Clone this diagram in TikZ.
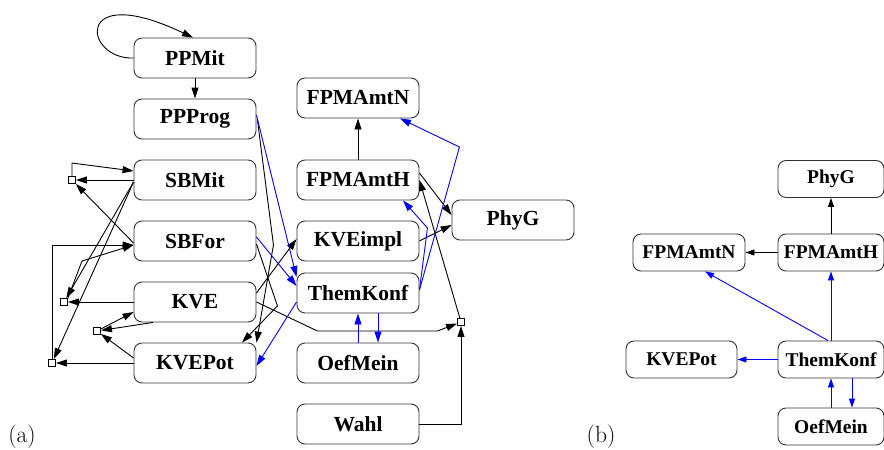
\documentclass[tikz,border=0pt]{standalone}
\usepackage{fontspec}
\newfontfamily\boxfont{Liberation Serif}
\usepackage{tikz}
\usetikzlibrary{arrows.meta,calc}
\tikzset{every picture/.style={line width=0.9pt}}

\begin{document}
\begin{tikzpicture}[x=1pt,y=1pt,yscale=-1,xscale=1,
  box/.style={draw=black!80,rounded corners=8pt,minimum width=122pt,minimum height=40pt,inner sep=0pt,font=\boxfont\bfseries\fontsize{21.5}{24}\selectfont},
  sbox/.style={box,minimum width=106pt,minimum height=37pt,font=\boxfont\bfseries\fontsize{19.5}{22}\selectfont},
  junc/.style={draw,fill=white,minimum size=7pt,inner sep=0pt},
  arr/.style={-{Triangle[length=11pt,width=7pt]}},
  barr/.style={arr,blue},
  sarr/.style={-{Triangle[length=9pt,width=6pt]}},
  sbarr/.style={sarr,blue}]
\useasboundingbox (0,0) rectangle (884,450);

% (a)
\node [box] (PPMit) at (195,58) {PPMit};
\node [box] (PPProg) at (195,119) {PPProg};
\node [box] (SBMit) at (195,180) {SBMit};
\node [box] (SBFor) at (195,241) {SBFor};
\node [box] (KVE) at (195,302) {KVE};
\node [box] (KVEPot) at (195,363) {KVEPot};
\node [box] (FPMAmtN) at (358,98) {FPMAmtN};
\node [box] (FPMAmtH) at (358,180) {FPMAmtH};
\node [box] (KVEimpl) at (358,241) {KVEimpl};
\node [box] (ThemKonf) at (358,293) {ThemKonf};
\node [box] (OefMein) at (358,363) {OefMein};
\node [box] (Wahl) at (358,424) {Wahl};
\node [box] (PhyG) at (513,220) {PhyG};
\node [junc] (j1) at (72,180) {};
\node [junc] (j2) at (64,302) {};
\node [junc] (j3) at (97,331) {};
\node [junc] (j4) at (52,363) {};
\node [junc] (j5) at (461,322) {};

\draw [arr] (PPMit.west) .. controls (84,60) and (72,-20) .. ($(PPMit.north)+(-2,0)$);
\draw [arr] (PPMit) -- (PPProg);
\draw [arr] ($(PPProg.east)+(1,1)$) -- ++(16,125) -- (KVEPot.north east);
\draw [arr] ($(SBFor.east)+(0,3)$) -- ++(21,62) -- ($(KVEPot.north)+(47,0)$);
\draw [arr] ($(KVE.east)+(0,-9)$) -- ($(KVEimpl.west)+(0,-2)$);
\draw [arr] (KVE.east) -- ++(61,29) -- ++(120,0) -- (j5);
\draw [arr] (Wahl.east) -| (j5);
\draw [arr] (j5) -- (FPMAmtH.east);
\draw [arr] (FPMAmtH) -- (FPMAmtN);
\draw [arr] ($(FPMAmtH.east)+(0,-7)$) -- ($(PhyG.west)+(0,-5)$);
\draw [arr] (KVEimpl.east) -- ($(PhyG.west)+(0,5)$);
\draw [barr] ($(PPProg.east)+(0,-4)$) -- ($(ThemKonf.west)+(0,-16)$);
\draw [barr] ($(SBFor.east)+(0,-4)$) -- ($(ThemKonf.west)+(0,-7)$);
\draw [barr] ($(ThemKonf.west)+(0,9)$) -- ($(KVEPot.east)+(0,3)$);
\draw [barr] ($(ThemKonf.east)+(0,-3)$) -- ++(8,-62) -- ($(FPMAmtH.south)+(45,0)$);
\draw [barr] ($(ThemKonf.east)+(0,-3)$) -- ++(40,-143) -- ($(FPMAmtN.south)+(42,0)$);
\draw [barr] (OefMein.north) -- (ThemKonf.south);
\draw [barr] ($(ThemKonf.south)+(20,0)$) -- ($(OefMein.north)+(20,0)$);
% hyperedges on the left
\draw [arr] (SBMit.west) -- (j1);
\draw [arr] (j1.north) -- ++(0,-13) -- ($(SBMit.west)+(0,-9)$);
\draw [arr] ($(SBFor.west)+(0,2)$) -- (j1);
\draw [arr] ($(SBMit.west)+(0,2)$) -- (j2);
\draw [arr] ($(SBMit.west)+(0,2)$) -- (j4);
\draw [arr] (j2.north east) -- ++(14,-37) -- ($(SBFor.west)+(0,4)$);
\draw [arr] (j4.north) |- ($(SBFor.west)+(0,4)$);
\draw [arr] (KVE.west) -- (j2);
\draw [arr] ($(KVE.south)+(-42,0)$) -- (j3);
\draw [arr] (j3) -- ($(KVE.west)+(0,10)$);
\draw [arr] ($(KVEPot.west)+(0,-5)$) -- (j3);
\draw [arr] (KVEPot.west) -- (j4);

% (b)
\node [sbox] (PhyGB) at (831,179) {PhyG};
\node [sbox] (FPMAmtHB) at (831,252.5) {FPMAmtH};
\node [sbox,minimum width=112pt] (FPMAmtNB) at (689,252.5) {FPMAmtN};
\node [sbox,minimum width=111pt] (KVEPotB) at (681.5,359.5) {KVEPot};
\node [sbox] (ThemKonfB) at (831,359.5) {ThemKonf};
\node [sbox] (OefMeinB) at (831,426.5) {OefMein};

\draw [sarr] (FPMAmtHB) -- (PhyGB);
\draw [sarr] (FPMAmtHB) -- (FPMAmtNB);
\draw [sbarr] (ThemKonfB) -- (FPMAmtHB);
\draw [sbarr] ($(ThemKonfB.north)+(-3,0)$) -- ($(FPMAmtNB.south)+(16,0)$);
\draw [sbarr] (ThemKonfB) -- (KVEPotB);
\draw [sbarr] (OefMeinB) -- (ThemKonfB);
\draw [sbarr] ($(ThemKonfB.south)+(21,0)$) -- ($(OefMeinB.north)+(21,0)$);

\node [font=\fontsize{23.5}{26}\selectfont] (la) at (22,437) {(a)};
\node [font=\fontsize{23.5}{26}\selectfont] (lb) at (601,437) {(b)};
\end{tikzpicture}
\end{document}
